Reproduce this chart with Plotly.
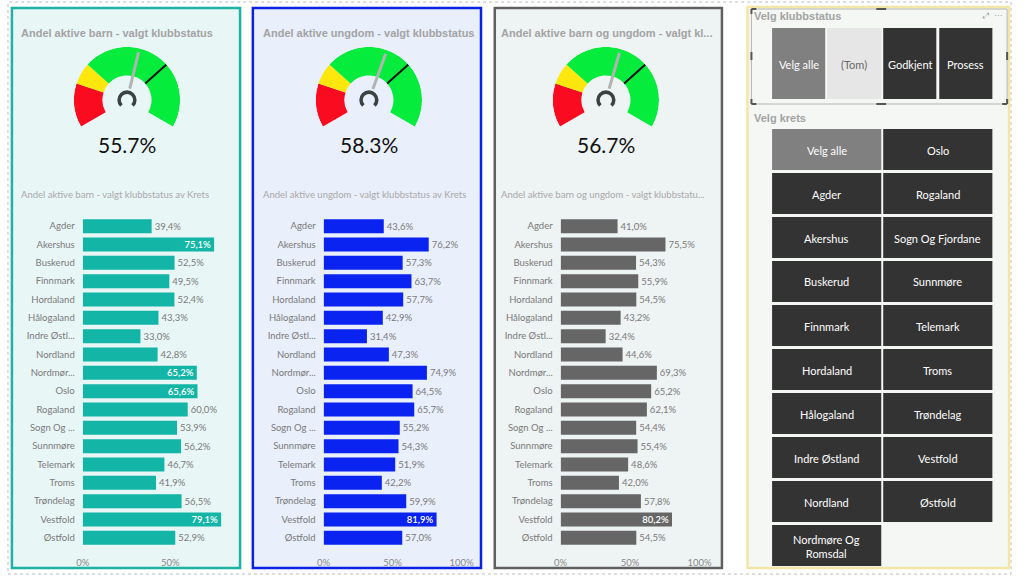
import plotly.graph_objects as go

W, H = 1024, 578


def fx(x):
    return x / W


def fy(y):
    return 1 - y / H


# ---------------- data ----------------
regions = ["Agder", "Akershus", "Buskerud", "Finnmark", "Hordaland", "Hålogaland",
           "Indre Østl...", "Nordland", "Nordmør...", "Oslo", "Rogaland", "Sogn Og ...",
           "Sunnmøre", "Telemark", "Troms", "Trøndelag", "Vestfold", "Østfold"]
barn = [39.4, 75.1, 52.5, 49.5, 52.4, 43.3, 33.0, 42.8, 65.2, 65.6, 60.0, 53.9,
        56.2, 46.7, 41.9, 56.5, 79.1, 52.9]
ungdom = [43.6, 76.2, 57.3, 63.7, 57.7, 42.9, 31.4, 47.3, 74.9, 64.5, 65.7, 55.2,
          54.3, 51.9, 42.2, 59.9, 81.9, 57.0]
begge = [41.0, 75.5, 54.3, 55.9, 54.5, 43.2, 32.4, 44.6, 69.3, 65.2, 62.1, 54.4,
         55.4, 48.6, 42.0, 57.8, 80.2, 54.5]
gauge_values = [55.7, 58.3, 56.7]
gauge_target = 70
gauge_band_starts = [0, 20, 30]
gauge_band_ends = [20, 30, 100]
gauge_band_colors = ["#fb0b1f", "#fde70d", "#06ec3c"]
x_ticks = [0, 50, 100]
x_tick_labels = ["0%", "50%", "100%"]

titles = ["Andel aktive barn - valgt klubbstatus",
          "Andel aktive ungdom - valgt klubbstatus",
          "Andel aktive barn og ungdom - valgt kl..."]
subtitles = ["Andel aktive barn - valgt klubbstatus av Krets",
             "Andel aktive ungdom - valgt klubbstatus av Krets",
             "Andel aktive barn og ungdom - valgt klubbstatu..."]
status_buttons = ["Velg alle", "(Tom)", "Godkjent", "Prosess"]
krets_buttons = ["Velg alle", "Oslo", "Agder", "Rogaland", "Akershus", "Sogn Og Fjordane",
                 "Buskerud", "Sunnmøre", "Finnmark", "Telemark", "Hordaland", "Troms",
                 "Hålogaland", "Trøndelag", "Indre Østland", "Vestfold", "Nordland",
                 "Østfold", "Nordmøre Og<br>Romsdal"]

series = [barn, ungdom, begge]

# ---------------- style ----------------
FONT = "Segoe UI, Lato, sans-serif"
TFONT = "Arial, Liberation Sans, sans-serif"
panels = [
    dict(x0=5, x1=237, border="#1db3a3", bg="#e9f6f6", bar="#12b5a6",
         tx=12, gcx=122, ax0=77, ax1=230, xmax=86, thr=62),
    dict(x0=250, x1=482, border="#0b22e6", bg="#e9effb", bar="#0a23f0",
         tx=258, gcx=368, ax0=322, ax1=465, xmax=102, thr=80),
    dict(x0=496, x1=727, border="#606060", bg="#eef3f3", bar="#666666",
         tx=500, gcx=609, ax0=563, ax1=707, xmax=102, thr=78),
]

fig = go.Figure()
shapes = []
annotations = []

# page dotted frame
shapes.append(dict(type="rect", xref="paper", yref="paper", x0=fx(1), x1=fx(1021), y0=fy(574), y1=fy(2),
                   line=dict(color="#bdbdbd", width=1, dash="dot"), fillcolor="rgba(0,0,0,0)", layer="below"))

R_OUT, R_IN = 54, 25


def ang(v):
    return 210 - 2.4 * v


for i, p in enumerate(panels):
    shapes.append(dict(type="rect", xref="paper", yref="paper", x0=fx(p["x0"]), x1=fx(p["x1"]),
                       y0=fy(568), y1=fy(8), line=dict(color=p["border"], width=2.5),
                       fillcolor=p["bg"], layer="below"))
    annotations.append(dict(text="<b>" + titles[i] + "</b>", x=fx(p["tx"]), y=fy(33), xref="paper", yref="paper",
                            xanchor="left", yanchor="middle", showarrow=False,
                            font=dict(family=TFONT, size=11, color="#a3a3a3")))
    annotations.append(dict(text=subtitles[i], x=fx(p["tx"]), y=fy(195), xref="paper", yref="paper",
                            xanchor="left", yanchor="middle", showarrow=False,
                            font=dict(family=FONT, size=9.5, color="#a8a8a8")))
    annotations.append(dict(text=f"{gauge_values[i]:.1f}%", x=fx(p["gcx"]), y=fy(144), xref="paper", yref="paper",
                            xanchor="center", yanchor="middle", showarrow=False,
                            font=dict(family=FONT, size=21, color="#111111")))

    # gauge drawn on a polar subplot
    pname = "polar" if i == 0 else f"polar{i + 1}"
    sub = pname
    for a, b, c in zip(gauge_band_starts, gauge_band_ends, gauge_band_colors):
        fig.add_trace(go.Barpolar(theta=[ang((a + b) / 2)], width=[2.4 * (b - a)], r=[R_OUT - R_IN],
                                  base=[R_IN], marker=dict(color=c, line=dict(width=0)),
                                  subplot=sub, showlegend=False, hoverinfo="skip"))
    fig.add_trace(go.Barpolar(theta=[90], width=[270], r=[3.6], base=[6.2],
                              marker=dict(color="#3b4242", line=dict(width=0)),
                              subplot=sub, showlegend=False, hoverinfo="skip"))
    fig.add_trace(go.Scatterpolar(r=[R_IN, R_OUT], theta=[ang(gauge_target)] * 2, mode="lines",
                                  line=dict(color="#111111", width=2), subplot=sub,
                                  showlegend=False, hoverinfo="skip"))
    fig.add_trace(go.Scatterpolar(r=[12, 50], theta=[ang(gauge_values[i])] * 2, mode="lines",
                                  line=dict(color="#b3b3b3", width=3), subplot=sub,
                                  showlegend=False, hoverinfo="skip"))
    fig.layout[pname] = dict(
        domain=dict(x=[fx(p["gcx"] - R_OUT), fx(p["gcx"] + R_OUT)], y=[fy(100 + R_OUT), fy(100 - R_OUT)]),
        bgcolor="rgba(0,0,0,0)",
        radialaxis=dict(range=[0, R_OUT], visible=False),
        angularaxis=dict(visible=False, rotation=0, direction="counterclockwise"),
    )

    # bar chart
    xa = "x" if i == 0 else f"x{i + 1}"
    ya = "y" if i == 0 else f"y{i + 1}"
    vals = series[i]
    texts = [f"{v:.1f}%".replace(".", ",") for v in vals]
    pos = ["inside" if v > p["thr"] else "outside" for v in vals]
    fig.add_trace(go.Bar(orientation="h", y=regions, x=vals, xaxis=xa, yaxis=ya,
                         marker=dict(color=p["bar"], line=dict(width=0)),
                         text=texts, textposition=pos, insidetextanchor="end",
                         constraintext="none", cliponaxis=False,
                         insidetextfont=dict(family=FONT, size=9.5, color="white", weight=600),
                         outsidetextfont=dict(family=FONT, size=9.5, color="#7a7a7a"),
                         showlegend=False, hoverinfo="skip"))
    xkey = "xaxis" if i == 0 else f"xaxis{i + 1}"
    ykey = "yaxis" if i == 0 else f"yaxis{i + 1}"
    fig.layout[xkey] = dict(domain=[fx(p["ax0"]), fx(p["ax1"])], range=[0, p["xmax"]],
                            anchor=ya, tickmode="array", tickvals=x_ticks, ticktext=x_tick_labels,
                            showgrid=False, zeroline=False, showline=False, ticks="",
                            ticklabelstandoff=8,
                            tickfont=dict(family=FONT, size=9.5, color="#8a8a8a"), fixedrange=True)
    fig.layout[ykey] = dict(domain=[fy(547), fy(217)], anchor=xa, autorange="reversed",
                            type="category", showgrid=False, zeroline=False, showline=False, ticks="",
                            ticklabelstandoff=7,
                            tickfont=dict(family=FONT, size=9.5, color="#7a7a7a"), fixedrange=True)

# ---------------- slicer panel ----------------
shapes.append(dict(type="rect", xref="paper", yref="paper", x0=fx(753), x1=fx(1019), y0=fy(568), y1=fy(7),
                   line=dict(color="#f3e7a6", width=2.5), fillcolor="#f4f7f4", layer="below"))
shapes.append(dict(type="rect", xref="paper", yref="paper", x0=fx(757), x1=fx(1017), y0=fy(104), y1=fy(9),
                   line=dict(color="#b5b5b5", width=1), fillcolor="rgba(0,0,0,0)", layer="below"))
# selection handles of the focused slicer
for (hx0, hy0, hx1, hy1) in [(757, 9, 757, 14), (757, 9, 762, 9), (1017, 99, 1017, 104), (1012, 104, 1017, 104),
                             (757, 99, 757, 104), (757, 104, 762, 104), (884, 9, 894, 9), (884, 104, 894, 104),
                             (757, 52, 757, 60), (1017, 52, 1017, 60)]:
    shapes.append(dict(type="line", xref="paper", yref="paper", x0=fx(hx0), x1=fx(hx1), y0=fy(hy0), y1=fy(hy1),
                       line=dict(color="#555555", width=2)))
annotations.append(dict(text="<b>Velg klubbstatus</b>", x=fx(758), y=fy(16), xref="paper", yref="paper",
                        xanchor="left", yanchor="middle", showarrow=False,
                        font=dict(family=TFONT, size=11, color="#a3a3a3")))
annotations.append(dict(text="⤢  ⋯", x=fx(1014), y=fy(16), xref="paper", yref="paper",
                        xanchor="right", yanchor="middle", showarrow=False,
                        font=dict(family="DejaVu Sans", size=8, color="#9a9a9a")))
annotations.append(dict(text="<b>Velg krets</b>", x=fx(758), y=fy(118), xref="paper", yref="paper",
                        xanchor="left", yanchor="middle", showarrow=False,
                        font=dict(family=TFONT, size=11, color="#a3a3a3")))

status_x = [(778, 832), (834, 889), (891, 945), (948, 1002)]
status_fill = ["#808080", "#e6e6e6", "#333333", "#333333"]
status_txt = ["white", "#666666", "white", "white"]
for name, (a, b), fc, tc in zip(status_buttons, status_x, status_fill, status_txt):
    shapes.append(dict(type="rect", xref="paper", yref="paper", x0=fx(a), x1=fx(b), y0=fy(99), y1=fy(28),
                       line=dict(width=0), fillcolor=fc, layer="below"))
    annotations.append(dict(text=name, x=fx((a + b) / 2), y=fy(64), xref="paper", yref="paper",
                            xanchor="center", yanchor="middle", showarrow=False,
                            font=dict(family=FONT, size=11, color=tc)))

col_x = [(778, 889), (891, 1002)]
for k, name in enumerate(krets_buttons):
    r, c = divmod(k, 2)
    top = 129 + 44 * r
    a, b = col_x[c]
    fc = "#808080" if k == 0 else "#333333"
    shapes.append(dict(type="rect", xref="paper", yref="paper", x0=fx(a), x1=fx(b), y0=fy(top + 41),
                       y1=fy(top), line=dict(width=0), fillcolor=fc, layer="below"))
    annotations.append(dict(text=name, x=fx((a + b) / 2), y=fy(top + 21), xref="paper", yref="paper",
                            xanchor="center", yanchor="middle", showarrow=False,
                            font=dict(family=FONT, size=11, color="white")))

fig.update_layout(width=W, height=H, margin=dict(l=0, r=0, t=0, b=0), paper_bgcolor="white",
                  plot_bgcolor="rgba(0,0,0,0)", shapes=shapes, annotations=annotations,
                  barmode="overlay", bargap=0.24, showlegend=False,
                  font=dict(family=FONT))

fig.write_html("out.html", config=dict(displayModeBar=False),
               post_script="document.body.style.margin='0';document.body.style.overflow='hidden';")
